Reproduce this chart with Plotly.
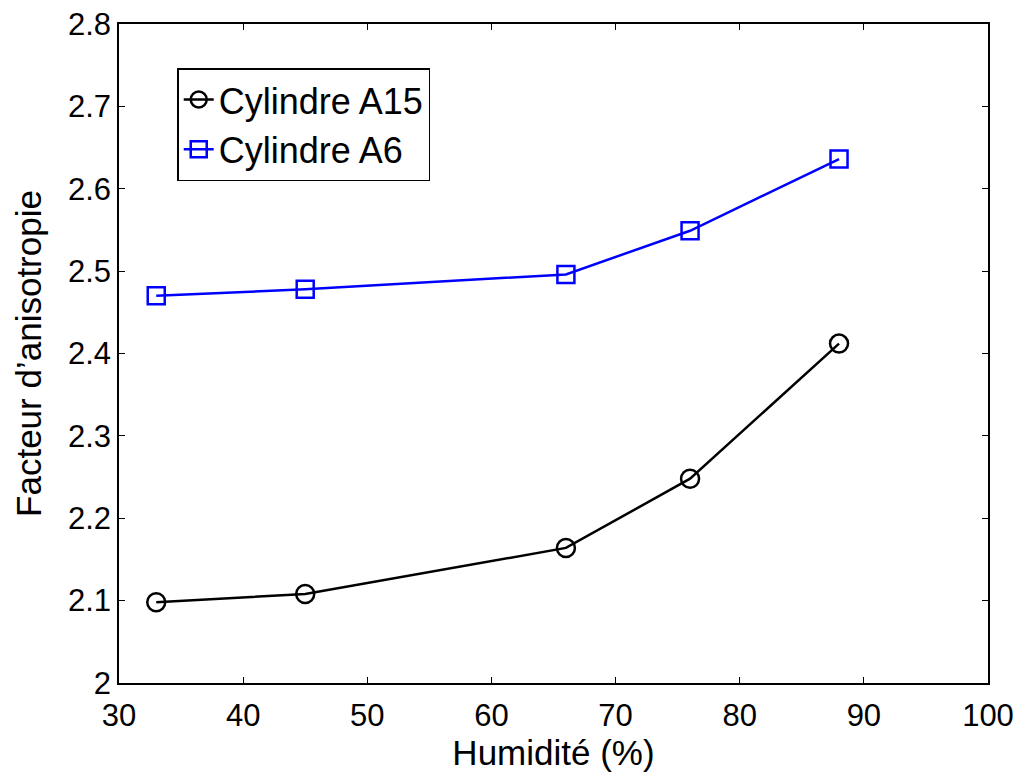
import plotly.graph_objects as go

humidity = [33, 45, 66, 76, 88]
a15 = [2.098, 2.108, 2.164, 2.248, 2.412]
a6 = [2.470, 2.478, 2.496, 2.549, 2.636]

x_ticks = [30, 40, 50, 60, 70, 80, 90, 100]
y_ticks = [2.0, 2.1, 2.2, 2.3, 2.4, 2.5, 2.6, 2.7, 2.8]
y_labels = ["2", "2.1", "2.2", "2.3", "2.4", "2.5", "2.6", "2.7", "2.8"]

font = "Liberation Sans, Arial, sans-serif"
fs = 31
fs_title = 35
fs_leg = 36

fig = go.Figure()
fig.add_trace(go.Scatter(
    x=humidity, y=a15, mode="lines+markers", name="Cylindre A15",
    line=dict(color="black", width=2.5),
    marker=dict(symbol="circle-open", size=18, color="black", line=dict(width=2.5)),
))
fig.add_trace(go.Scatter(
    x=humidity, y=a6, mode="lines+markers", name="Cylindre A6",
    line=dict(color="#0000ff", width=2.5),
    marker=dict(symbol="square-open", size=17, color="#0000ff", line=dict(width=2.5)),
))

axis_common = dict(
    showgrid=False, zeroline=False, showline=True, linecolor="black", linewidth=1.5,
    mirror="ticks", ticks="inside", ticklen=6, tickwidth=1.2, tickcolor="black",
    tickfont=dict(family=font, size=fs, color="black"), automargin=False,
)

fig.update_layout(
    width=1025, height=774,
    margin=dict(l=119, r=37, t=24, b=91),
    paper_bgcolor="white", plot_bgcolor="white",
    font=dict(family=font, size=fs, color="black"),
    xaxis=dict(range=[30, 100], tickvals=x_ticks, ticktext=[str(v) for v in x_ticks],
               ticklabelstandoff=4,
               title=dict(text="Humidité (%)", font=dict(family=font, size=fs_title), standoff=2),
               **axis_common),
    yaxis=dict(range=[2.0, 2.8], tickvals=y_ticks, ticktext=y_labels,
               title=dict(text="Facteur d\u2019anisotropie", font=dict(family=font, size=fs_title), standoff=16),
               **axis_common),
    legend=dict(x=0.067, y=0.933, xanchor="left", yanchor="top",
                bordercolor="black", borderwidth=1.5, bgcolor="white",
                font=dict(family=font, size=fs_leg, color="black"),
                tracegroupgap=0),
    showlegend=True,
)

fig.write_html("out.html", config={"displayModeBar": False},
               post_script="document.body.style.margin='0';document.body.style.overflow='hidden';")
